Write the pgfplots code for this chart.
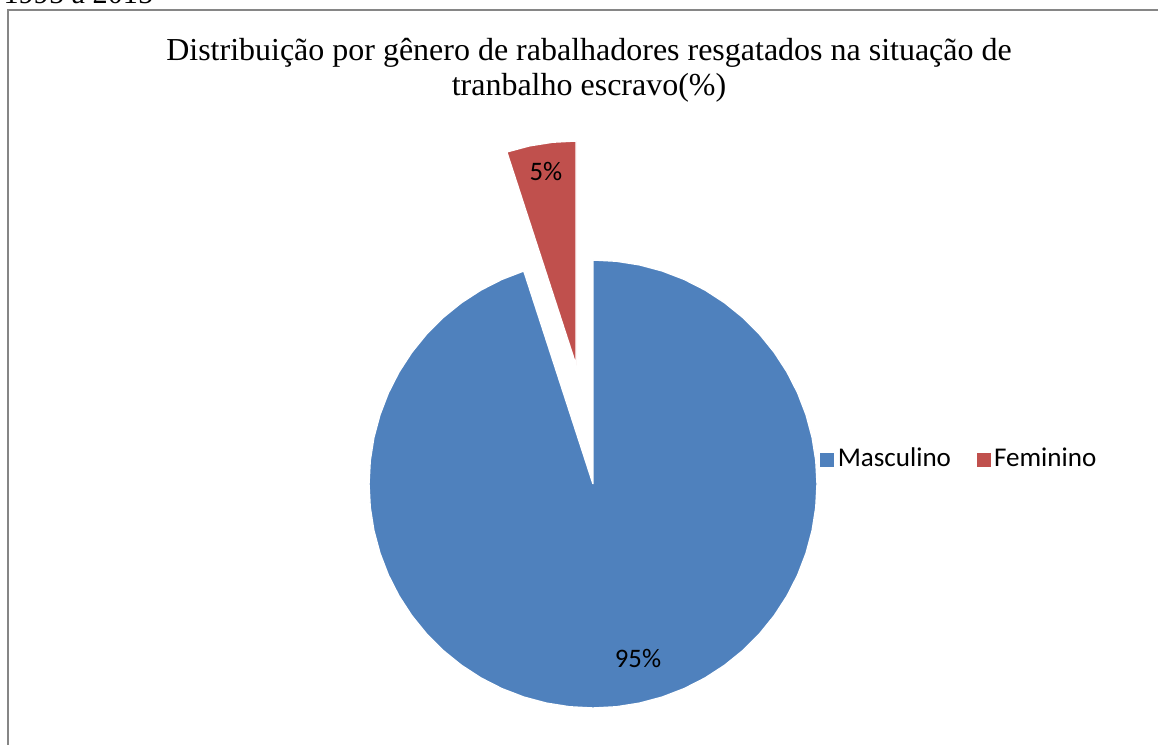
\documentclass[border=0pt]{standalone}
\usepackage{fontspec}
\setmainfont{Liberation Serif}
\newfontfamily\calibri{Carlito}
\usepackage{pgfplots}
\pgfplotsset{compat=1.18}
\definecolor{mblue}{RGB}{79,129,189}
\definecolor{fred}{RGB}{192,80,77}
\definecolor{framegray}{RGB}{134,134,134}

\begin{document}
\begin{tikzpicture}
\useasboundingbox (0,0) rectangle (11.58cm,7.44cm);
\begin{axis}[
  at={(0,0)}, anchor=south west,
  scale only axis, width=11.58cm, height=7.44cm,
  xmin=-593, xmax=565, ymin=-260, ymax=484,
  hide axis, clip=false,
  legend columns=2,
  legend style={at={(axis cs:216,24)}, anchor=west, draw=none, fill=none,
    font=\calibri\fontsize{7.7}{9}\selectfont,
    nodes={inner sep=1pt},
    /tikz/every even column/.append style={column sep=0.22cm}},
  legend image code/.code={\fill[#1, draw=none] (0cm,-0.07cm) rectangle (0.14cm,0.07cm);},
]
% frame of the chart area
\draw[framegray, line width=0.02cm] (axis cs:-585,474) rectangle (axis cs:700,-400);

% Masculino 95% : from 108 deg clockwise round to 90 deg
\addplot[forget plot, fill=mblue, draw=white, line width=0.4pt, data cs=polar] coordinates {
  (0,0) (108,224) (114,224) (120,224) (126,224) (132,224) (138,224) (144,224)
  (150,224) (156,224) (162,224) (168,224) (174,224) (180,224) (186,224)
  (192,224) (198,224) (204,224) (210,224) (216,224) (222,224) (228,224)
  (234,224) (240,224) (246,224) (252,224) (258,224) (264,224) (270,224)
  (276,224) (282,224) (288,224) (294,224) (300,224) (306,224) (312,224)
  (318,224) (324,224) (330,224) (336,224) (342,224) (348,224) (354,224)
  (360,224) (366,224) (372,224) (378,224) (384,224) (390,224) (396,224)
  (402,224) (408,224) (414,224) (420,224) (426,224) (432,224) (438,224)
  (444,224) (450,224) (0,0)
};
% Feminino 5% : 90 to 108 deg, pulled out along 99 deg
\addplot[forget plot, fill=fred, draw=white, line width=0.4pt, data cs=polar,
  xshift=-0.17cm, yshift=1.19cm] coordinates {
  (0,0) (90,224) (96,224) (102,224) (108,224) (0,0)
};
\addlegendimage{fill=mblue, draw=none}
\addlegendentry{Masculino}
\addlegendimage{fill=fred, draw=none}
\addlegendentry{Feminino}

% data labels
\node[font=\calibri\fontsize{7.6}{9}\selectfont] at (axis cs:-47,312) {5\%};
\node[font=\calibri\fontsize{7.6}{9}\selectfont] at (axis cs:45,-174) {95\%};

% title
\node[anchor=base, font=\fontsize{9.1}{11}\selectfont] at (axis cs:-4,423)
  {Distribuição por gênero de rabalhadores resgatados na situação de};
\node[anchor=base, font=\fontsize{9.1}{11}\selectfont] at (axis cs:-4,388)
  {tranbalho escravo(\%)};
% caption fragment above the frame
\node[anchor=base west, inner sep=0pt, font=\fontsize{8.6}{10}\selectfont] at (axis cs:-590,480)
  {1995 a 2015};
\end{axis}
\end{tikzpicture}
\end{document}
